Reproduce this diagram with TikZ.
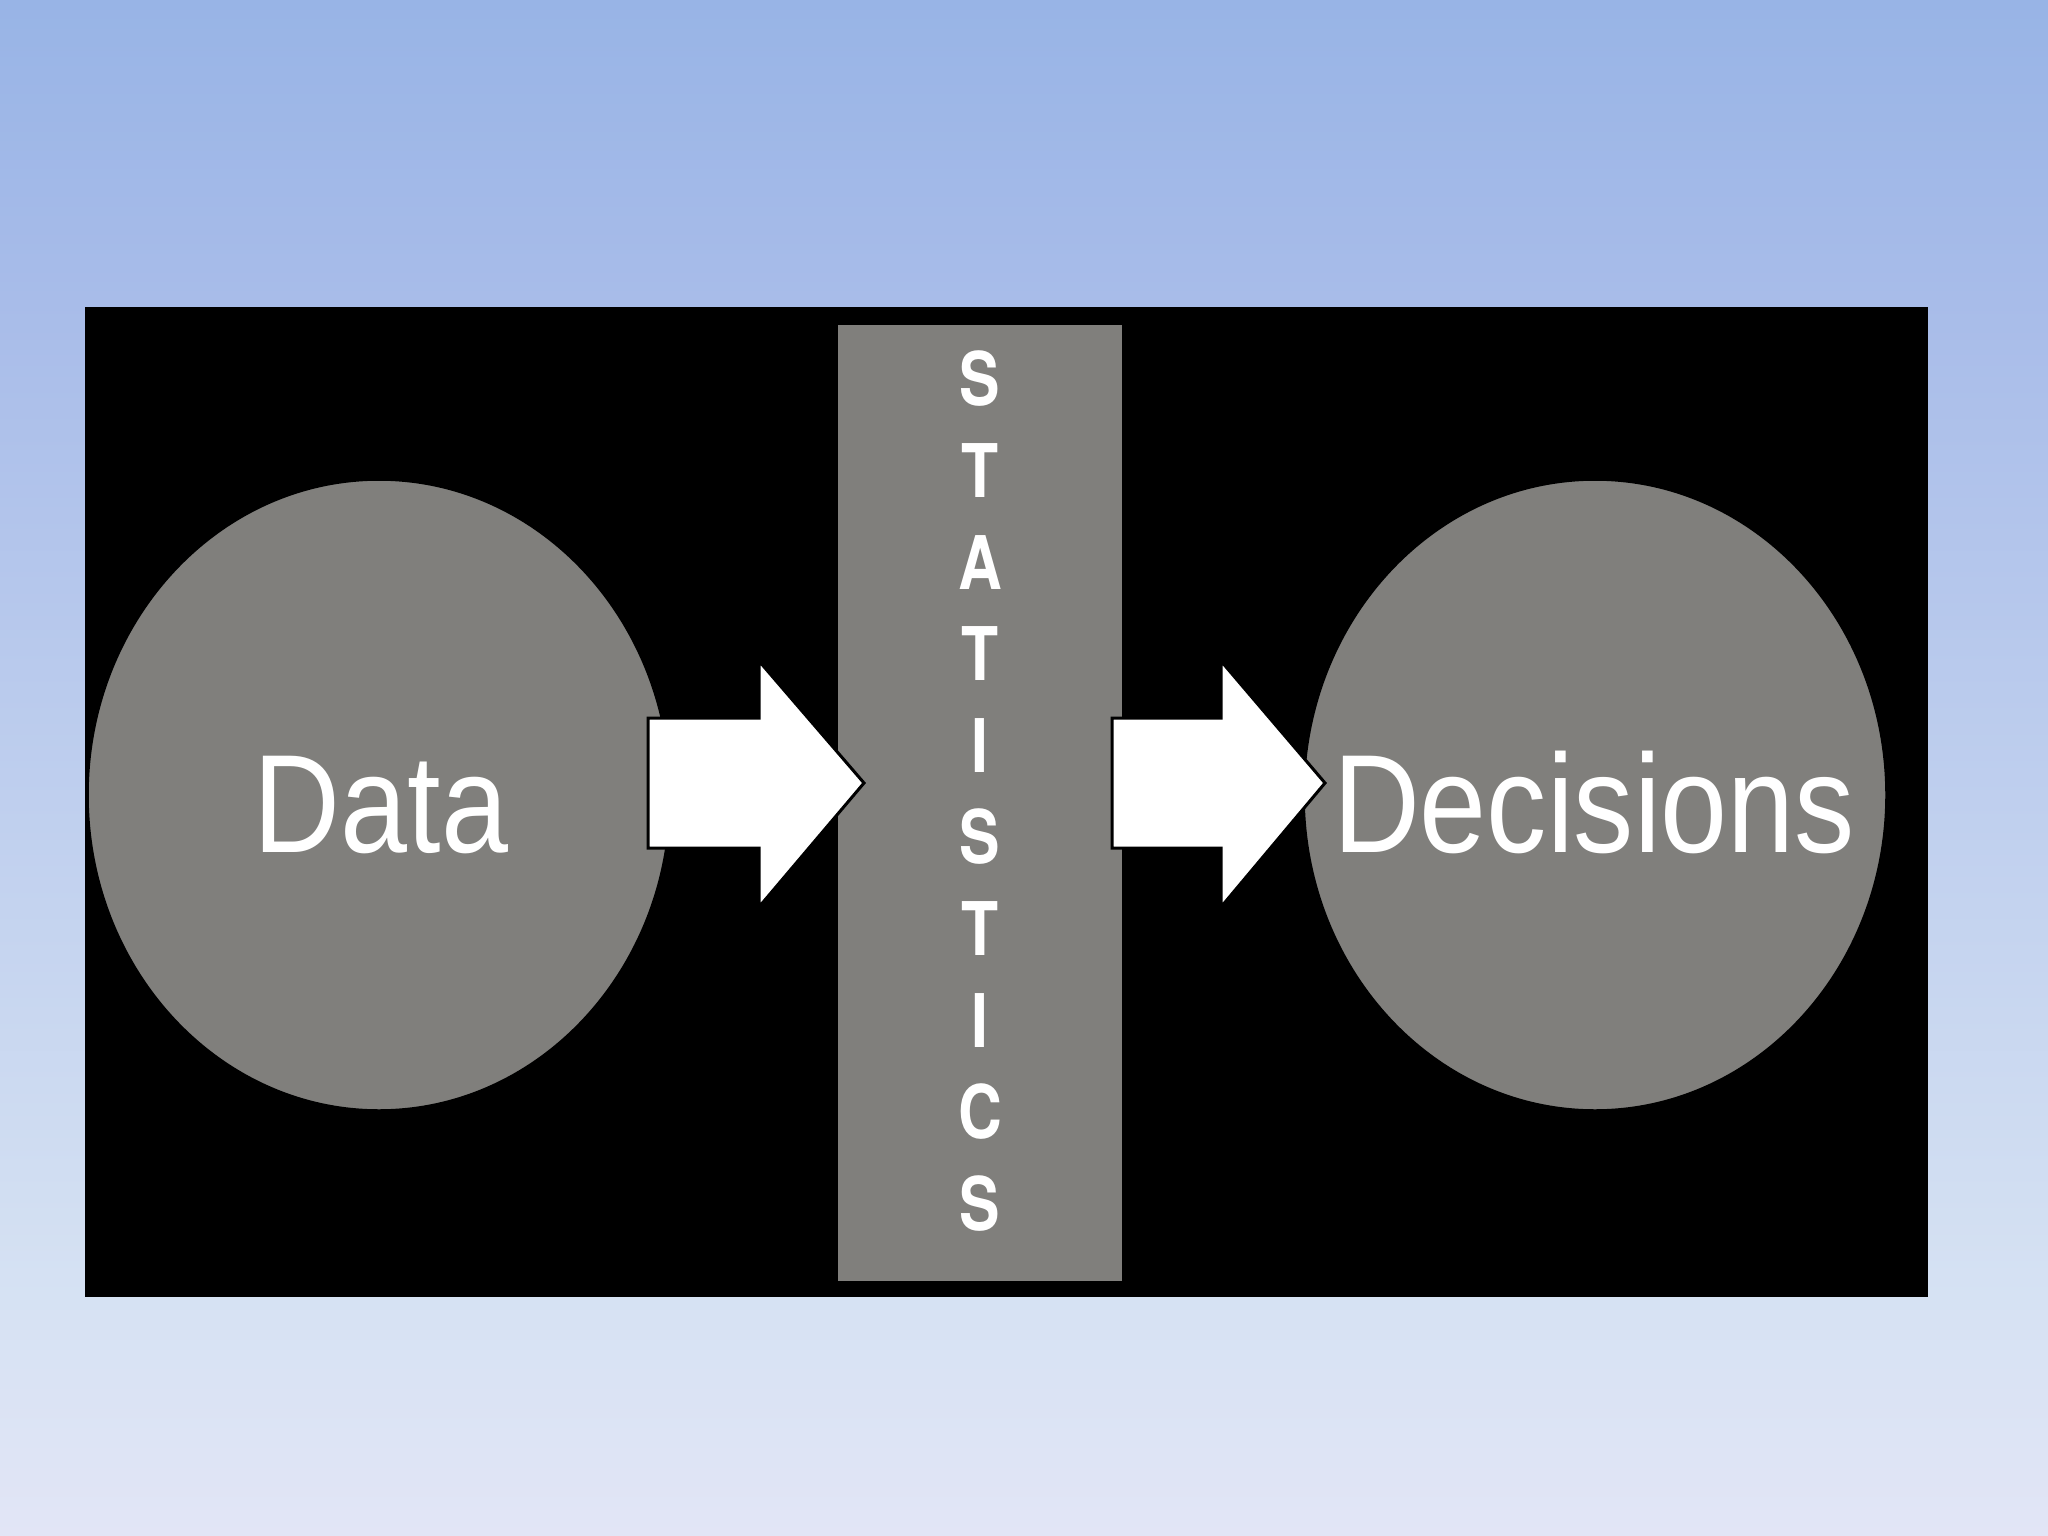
\documentclass[tikz,border=0pt]{standalone}
\usepackage{fontspec}
\usepackage{graphicx}
\setmainfont{Liberation Sans}
\newfontfamily\statfont{texgyreheros-bold.otf}
\usetikzlibrary{shapes.geometric}
\definecolor{bgtop}{RGB}{152,180,230}
\definecolor{bgmid}{RGB}{168,188,233}
\definecolor{bglow}{RGB}{214,226,243}
\definecolor{bgbot}{RGB}{226,229,246}
\definecolor{panelgray}{RGB}{128,127,124}
\tikzset{
  x=1pt,y=-1pt,
  blob/.style={ellipse, fill=panelgray, draw=black, line width=1.5pt, minimum width=582pt, minimum height=630pt, inner sep=0pt},
  bigword/.style={text=white, font=\fontsize{140}{144}\selectfont},
  letter/.style={text=white, font=\statfont\fontsize{74}{80}\selectfont, inner sep=0pt, anchor=center},
  blockarrow/.style={fill=white, draw=black, line width=3pt, line join=miter}
}
\begin{document}
\begin{tikzpicture}
\useasboundingbox (0,0) rectangle (2048,1536);
% background gradient
\shade[top color=bgtop, bottom color=bgmid] (0,0) rectangle (2048,300);
\shade[top color=bgmid, bottom color=bglow] (0,300) rectangle (2048,1300);
\shade[top color=bglow, bottom color=bgbot] (0,1300) rectangle (2048,1536);
% black panel
\fill[black] (85,307) rectangle (1928,1297);
% statistics bar
\node[fill=panelgray, minimum width=284pt, minimum height=956pt, inner sep=0pt] (stats) at (980,803) {};
\foreach \l [count=\i from 0] in {S,T,A,T,I,S,T,I,C,S}{
  \node[letter] (L\i) at (980,{379+91.6*\i}) {\scalebox{0.82}[1]{\l}};
}
% circles
\node[blob] (data) at (379,795) {};
\node[bigword, anchor=base] (datatxt) at (381,852) {\scalebox{0.86}[1]{Data}};
\node[blob] (dec) at (1595,795) {};
\node[bigword, anchor=base] (dectxt) at (1594,852) {\scalebox{0.86}[1]{Decisions}};
% block arrows
\draw[blockarrow] (648,718) -- (759,718) -- (759,661) -- (864,783) -- (759,907) -- (759,848) -- (648,848) -- cycle;
\draw[blockarrow] (1112,718) -- (1221,718) -- (1221,661) -- (1325,783) -- (1221,907) -- (1221,848) -- (1112,848) -- cycle;
\end{tikzpicture}
\end{document}
